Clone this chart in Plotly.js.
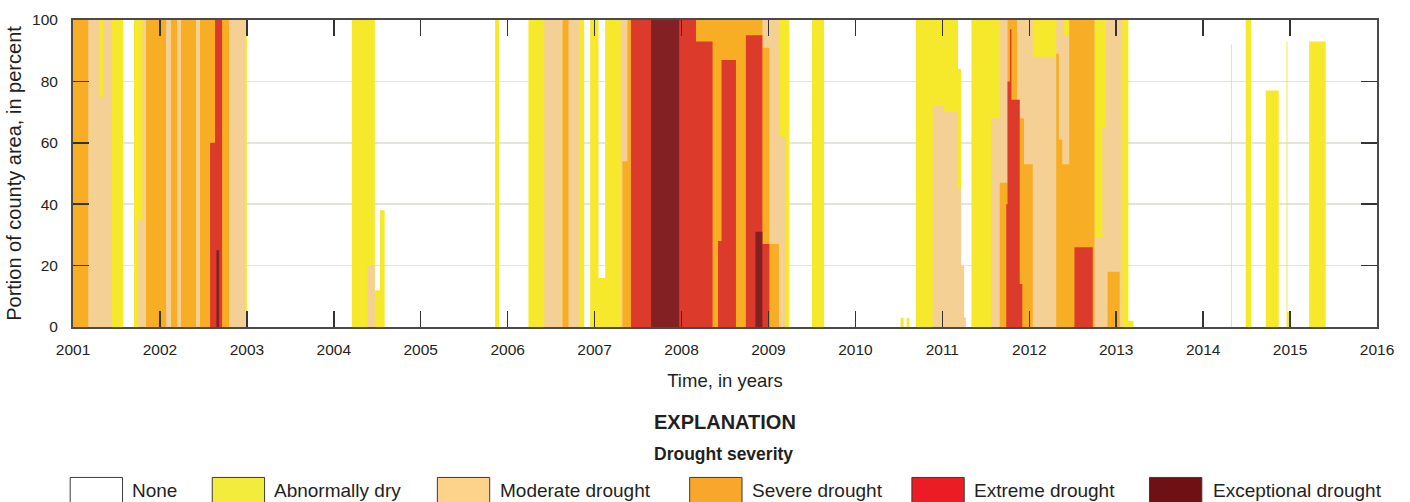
<!DOCTYPE html>
<html>
<head>
<meta charset="utf-8">
<script src="https://cdn.plot.ly/plotly-3.0.1.min.js"></script>
<style>
  html, body { margin: 0; padding: 0; background: #ffffff; }
  #chart { width: 1410px; height: 502px; }
</style>
</head>
<body>
<div id="chart"></div>
<script>
// ---- Data: weekly drought category coverage, as change points (decimal years) ----
// Cumulative percent of county area: d0 = abnormally dry or worse, d1 = moderate or worse,
// d2 = severe or worse, d3 = extreme or worse, d4 = exceptional.
const changeTimes = [
  2001.000, 2001.176, 2001.300, 2001.345, 2001.449, 2001.575, 2001.702, 2001.750, 2001.800, 2001.840,
  2002.070, 2002.128, 2002.197, 2002.243, 2002.415, 2002.461, 2002.577, 2002.634, 2002.650, 2002.680,
  2002.715, 2002.795, 2002.979, 2003.000,
  2004.207, 2004.387, 2004.472, 2004.530, 2004.585,
  2005.856, 2005.902,
  2006.239, 2006.420, 2006.631, 2006.700, 2006.823, 2006.880, 2006.949,
  2007.045, 2007.122, 2007.300, 2007.320, 2007.378, 2007.418, 2007.650, 2007.973,
  2008.166, 2008.357, 2008.420, 2008.460, 2008.626, 2008.740, 2008.850, 2008.930,
  2009.010, 2009.120, 2009.200, 2009.240, 2009.500, 2009.640,
  2010.520, 2010.555, 2010.590, 2010.620, 2010.695, 2010.890,
  2011.020, 2011.180, 2011.215, 2011.250, 2011.270, 2011.335, 2011.560, 2011.660, 2011.735, 2011.750,
  2011.778, 2011.795, 2011.860, 2011.890, 2011.920, 2011.940,
  2012.040, 2012.310, 2012.340, 2012.380, 2012.400, 2012.460, 2012.520, 2012.730, 2012.750, 2012.840,
  2012.880, 2012.900,
  2013.040, 2013.070, 2013.140, 2013.200,
  2014.320, 2014.330, 2014.490, 2014.550, 2014.720, 2014.870, 2014.960, 2014.970, 2014.990,
  2015.220, 2015.410, 2016.000
];
const abnormallyDryOrWorse = [
  100, 100, 100, 100, 100, 0, 100, 100, 100, 100,
  100, 100, 100, 100, 100, 100, 100, 100, 100, 100,
  100, 100, 100, 0,
  100, 100, 12, 38, 0,
  100, 0,
  100, 100, 100, 100, 100, 0, 100,
  16, 100, 100, 100, 100, 100, 100, 100,
  100, 100, 100, 100, 100, 100, 100, 100,
  100, 100, 100, 0, 100, 0,
  3, 0, 3, 0, 100, 100,
  100, 84, 20, 3, 0, 100, 100, 100, 100, 100,
  100, 100, 100, 100, 100, 100,
  100, 100, 100, 100, 100, 100, 100, 100, 100, 100,
  100, 100,
  100, 100, 2, 0,
  92, 0, 100, 0, 77, 0, 93, 5, 0,
  93, 0, 0
];
const moderateOrWorse = [
  100, 100, 75, 100, 0, 0, 0, 35, 100, 100,
  100, 100, 100, 100, 100, 100, 100, 100, 100, 100,
  100, 100, 0, 0,
  0, 20, 0, 0, 0,
  0, 0,
  0, 100, 100, 100, 0, 0, 0,
  0, 0, 100, 100, 100, 100, 100, 100,
  100, 100, 100, 100, 100, 100, 100, 100,
  100, 62, 0, 0, 0, 0,
  0, 0, 0, 0, 0, 72,
  70, 45, 20, 3, 0, 0, 68, 100, 100, 100,
  100, 100, 100, 100, 100, 100,
  88, 100, 100, 100, 95, 100, 100, 100, 29, 65,
  100, 100,
  100, 0, 0, 0,
  0, 0, 0, 0, 0, 0, 0, 0, 0,
  0, 0, 0
];
const severeOrWorse = [
  100, 0, 0, 0, 0, 0, 0, 0, 0, 100,
  0, 100, 0, 100, 0, 100, 100, 100, 100, 100,
  100, 0, 0, 0,
  0, 0, 0, 0, 0,
  0, 0,
  0, 0, 100, 0, 0, 0, 0,
  0, 0, 0, 54, 100, 100, 100, 100,
  100, 100, 100, 100, 100, 100, 100, 91,
  27, 0, 0, 0, 0, 0,
  0, 0, 0, 0, 0, 0,
  0, 0, 0, 0, 0, 0, 0, 47, 47, 100,
  100, 100, 74, 68, 68, 53,
  0, 89, 61, 53, 53, 100, 100, 100, 0, 0,
  0, 18,
  0, 0, 0, 0,
  0, 0, 0, 0, 0, 0, 0, 0, 0,
  0, 0, 0
];
const extremeOrWorse = [
  0, 0, 0, 0, 0, 0, 0, 0, 0, 0,
  0, 0, 0, 0, 0, 0, 60, 100, 100, 100,
  0, 0, 0, 0,
  0, 0, 0, 0, 0,
  0, 0,
  0, 0, 0, 0, 0, 0, 0,
  0, 0, 0, 0, 0, 100, 100, 100,
  93, 0, 28, 87, 0, 95, 95, 27,
  0, 0, 0, 0, 0, 0,
  0, 0, 0, 0, 0, 0,
  0, 0, 0, 0, 0, 0, 0, 0, 40, 80,
  97, 74, 74, 14, 0, 0,
  0, 0, 0, 0, 0, 0, 26, 0, 0, 0,
  0, 0,
  0, 0, 0, 0,
  0, 0, 0, 0, 0, 0, 0, 0, 0,
  0, 0, 0
];
const exceptional = [
  0, 0, 0, 0, 0, 0, 0, 0, 0, 0,
  0, 0, 0, 0, 0, 0, 0, 0, 25, 0,
  0, 0, 0, 0,
  0, 0, 0, 0, 0,
  0, 0,
  0, 0, 0, 0, 0, 0, 0,
  0, 0, 0, 0, 0, 0, 100, 0,
  0, 0, 0, 0, 0, 0, 31, 0,
  0, 0, 0, 0, 0, 0,
  0, 0, 0, 0, 0, 0,
  0, 0, 0, 0, 0, 0, 0, 0, 0, 0,
  0, 0, 0, 0, 0, 0,
  0, 0, 0, 0, 0, 0, 0, 0, 0, 0,
  0, 0,
  0, 0, 0, 0,
  0, 0, 0, 0, 0, 0, 0, 0, 0,
  0, 0, 0
];

const yearTicks = [2001, 2002, 2003, 2004, 2005, 2006, 2007, 2008, 2009, 2010, 2011, 2012, 2013, 2014, 2015, 2016];
const percentTicks = [0, 20, 40, 60, 80, 100];
const legendLabels = ['None', 'Abnormally dry', 'Moderate drought', 'Severe drought', 'Extreme drought', 'Exceptional drought'];

// ---- Styles ----
const FONT = 'Liberation Sans, Arial, sans-serif';
const fillColors = ['#F6E82B', '#F5D095', '#F7AE24', '#DC3A2B', '#832024'];
const swatchColors = ['#FFFFFF', '#F3EC3C', '#FDD38B', '#F9A72B', '#EC1C24', '#6F1014'];

const series = [abnormallyDryOrWorse, moderateOrWorse, severeOrWorse, extremeOrWorse, exceptional];
const traces = series.map((vals, i) => ({
  type: 'scatter',
  mode: 'lines',
  x: changeTimes,
  y: vals,
  name: legendLabels[i + 1],
  line: { shape: 'hv', width: 0, color: fillColors[i] },
  fill: 'tozeroy',
  fillcolor: fillColors[i],
  showlegend: false,
  hoverinfo: 'skip'
}));

// plot-area pixel geometry (for placing the explanation block)
const PL = 73.3, PR = 1376.7, PT = 20, PB = 326.7;
const px = x => (x - PL) / (PR - PL);
const py = y => (PB - y) / (PB - PT);

const swatchX = [70.5, 212.5, 437.5, 689.7, 911.8, 1149.3];
const swatchW = 52.3;
const labelX = [130, 272.5, 498, 749.5, 972, 1210.5];

const shapes = swatchX.map((x, i) => ({
  type: 'rect', xref: 'paper', yref: 'paper',
  x0: px(x), x1: px(x + swatchW), y0: py(508), y1: py(477),
  fillcolor: swatchColors[i],
  line: { color: '#3a3a3a', width: 1 },
  layer: 'above'
}));

const annotations = legendLabels.map((lab, i) => ({
  xref: 'paper', yref: 'paper', x: px(labelX[i]), y: py(490),
  xanchor: 'left', yanchor: 'middle', showarrow: false,
  text: lab, font: { family: FONT, size: 19, color: '#231f20' }
}));
annotations.push({
  xref: 'paper', yref: 'paper', x: px(725), y: py(422), xanchor: 'center', yanchor: 'middle',
  showarrow: false, text: '<b>EXPLANATION</b>', font: { family: FONT, size: 20, color: '#231f20' }
});
annotations.push({
  xref: 'paper', yref: 'paper', x: px(724), y: py(454), xanchor: 'center', yanchor: 'middle',
  showarrow: false, text: '<b>Drought severity</b>', font: { family: FONT, size: 17.5, color: '#231f20' }
});

const layout = {
  width: 1410, height: 502,
  margin: { l: 73, r: 33, t: 20, b: 175, pad: 0 },
  paper_bgcolor: '#ffffff', plot_bgcolor: '#ffffff',
  font: { family: FONT, color: '#231f20' },
  xaxis: {
    range: [2001, 2016], tickmode: 'array', tickvals: yearTicks, ticktext: yearTicks.map(String),
    ticks: 'inside', ticklen: 16, tickwidth: 1.5, tickcolor: '#333333',
    showline: true, linecolor: '#4a4a4a', linewidth: 2, mirror: 'ticks',
    showgrid: false, zeroline: false, fixedrange: true,
    tickfont: { family: FONT, size: 15.5, color: '#231f20' }, ticklabelstandoff: 7,
    title: { text: 'Time, in years', font: { family: FONT, size: 18.5, color: '#231f20' }, standoff: 17 }
  },
  yaxis: {
    range: [0, 100], tickmode: 'array', tickvals: percentTicks, ticktext: percentTicks.map(String),
    ticks: 'inside', ticklen: 16, tickwidth: 1.5, tickcolor: '#333333',
    showline: true, linecolor: '#4a4a4a', linewidth: 2, mirror: 'ticks',
    showgrid: true, gridcolor: '#E4E3DC', gridwidth: 1.5, zeroline: false, fixedrange: true,
    tickfont: { family: FONT, size: 15.5, color: '#231f20' }, ticklabelstandoff: 10,
    title: { text: 'Portion of county area, in percent', font: { family: FONT, size: 20, color: '#231f20' }, standoff: 5 }
  },
  shapes: shapes,
  annotations: annotations,
  showlegend: false
};

Plotly.newPlot('chart', traces, layout, { staticPlot: true, displayModeBar: false });
</script>
</body>
</html>
